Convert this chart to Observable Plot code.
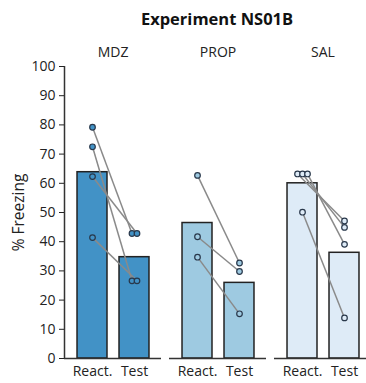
<!DOCTYPE html>
<html>
<head>
<meta charset="utf-8">
<script src="https://cdn.jsdelivr.net/npm/d3@7"></script>
<script src="https://cdn.jsdelivr.net/npm/@observablehq/plot@0.6"></script>
<style>
  html, body { margin: 0; padding: 0; background: #fff; }
  #wrap { width: 366px; height: 383px; overflow: hidden; position: relative; }
  #chart { width: 371px; }
  #title { width: 308px; padding-left: 63px; height: 38px; line-height: 38px; text-align: center;
           font-family: "Open Sans", sans-serif; font-weight: bold; font-size: 16.5px; color: #111; }
</style>
</head>
<body>
<div id="wrap">
  <div id="title">Experiment NS01B</div>
  <div id="chart"></div>
</div>
<script>
const groups = ["MDZ", "PROP", "SAL"];
const phases = ["React.", "Test"];
const colors = ["#4292c6", "#9ecae1", "#deebf7"];
const meanReact = [63.8, 46.4, 60.0];
const meanTest = [34.7, 25.9, 36.2];
const mdzReact = [79.2, 72.5, 62.3, 41.4];
const mdzTest = [42.8, 26.6, 42.8, 26.6];
const propReact = [62.7, 41.7, 34.7];
const propTest = [32.7, 29.8, 15.3];
const salReact = [63.2, 63.2, 63.2, 50.1];
const salTest = [47.1, 44.9, 39.1, 13.9];
const yTicks = [0, 10, 20, 30, 40, 50, 60, 70, 80, 90, 100];
const yLabel = "% Freezing";

const xDomain = [-0.667, 1.643];
const halfBar = 0.357;
const tieStep = 0.119;

const bars = [];
groups.forEach((g, k) => {
  bars.push({group: g, i: 0, value: meanReact[k]});
  bars.push({group: g, i: 1, value: meanTest[k]});
});

const subj = {MDZ: [mdzReact, mdzTest], PROP: [propReact, propTest], SAL: [salReact, salTest]};
const points = [];
const pairs = [];
groups.forEach(g => {
  const [r, t] = subj[g];
  const offs = [r, t].map(arr => arr.map((v, j) => {
    const same = arr.map((w, q) => [w, q]).filter(([w]) => w === v).map(([, q]) => q);
    const n = same.length, kk = same.indexOf(j);
    return (kk - (n - 1) / 2) * tieStep;
  }));
  r.forEach((v, j) => {
    const xr = 0 + offs[0][j], xt = 1 + offs[1][j];
    points.push({group: g, x: xr, y: v});
    points.push({group: g, x: xt, y: t[j]});
    pairs.push({group: g, xr, yr: v, xt, yt: t[j]});
  });
});

const chart = Plot.plot({
  width: 371,
  height: 345,
  marginTop: 28,
  marginBottom: 25,
  marginLeft: 63,
  marginRight: 0,
  style: {fontFamily: "Open Sans, sans-serif", fontSize: "14px", color: "#222", background: "#fff", overflow: "visible", maxWidth: "none"},
  fx: {domain: groups, paddingInner: 0.08, paddingOuter: 0, label: null},
  x: {domain: xDomain},
  y: {domain: [0, 100]},
  color: {domain: groups, range: colors},
  marks: [
    Plot.rectY(bars, {fx: "group", x1: d => d.i - halfBar, x2: d => d.i + halfBar, y: "value",
      fill: "group", stroke: "#222", strokeWidth: 1.5}),
    Plot.link(pairs, {fx: "group", x1: "xr", y1: "yr", x2: "xt", y2: "yt", stroke: "#8a8a8a", strokeWidth: 1.5}),
    Plot.dot(points, {fx: "group", x: "x", y: "y", r: 2.8, fill: "group", stroke: "#28374a", strokeWidth: 1.2}),
    Plot.ruleY([0], {stroke: "#333", strokeWidth: 1.5}),
    Plot.ruleX([{group: "MDZ"}], {fx: "group", x: () => xDomain[0], y1: () => 0, y2: () => 100, stroke: "#333", strokeWidth: 1.5}),
    Plot.text([{group: "MDZ"}], {fx: "group", text: () => yLabel, frameAnchor: "left", textAnchor: "middle", rotate: -90, dx: -45, fontSize: 15.5, fill: "#222"}),
    Plot.axisY({ticks: yTicks, tickSize: 5, tickPadding: 4, label: null}),
    Plot.axisX({ticks: [0, 1], tickFormat: i => phases[i], tickSize: 0, tickPadding: 8, label: null}),
    Plot.axisFx({anchor: "top", tickSize: 0, tickPadding: 10, label: null})
  ]
});
document.getElementById("chart").appendChild(chart);
</script>
</body>
</html>
